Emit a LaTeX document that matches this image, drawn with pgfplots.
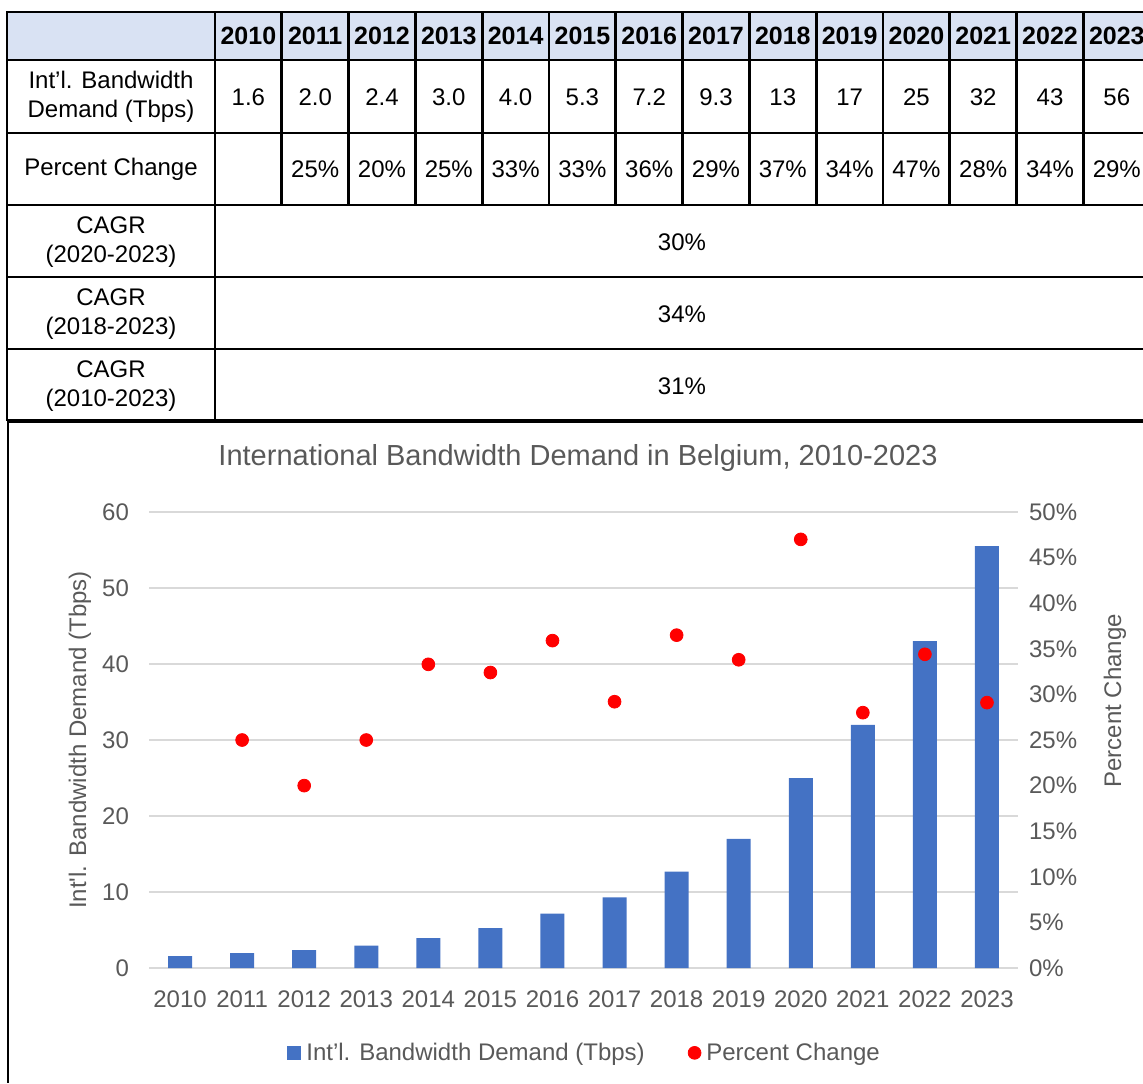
\documentclass[border=0pt]{standalone}
\usepackage{fontspec}
\setmainfont{Liberation Sans}
\newfontfamily\plainfont{Liberation Sans}
\usepackage{pgfplots}
\pgfplotsset{compat=1.18}
\definecolor{hdr}{HTML}{D9E2F3}
\definecolor{txtgray}{HTML}{595959}
\definecolor{gridgray}{HTML}{D9D9D9}
\definecolor{barblue}{HTML}{4472C4}
\definecolor{dotred}{HTML}{FF0000}
\begin{document}
\begin{tikzpicture}
\useasboundingbox (0,0) rectangle (571.5pt,-541.5pt);
\begin{scope}[x=0.5pt,y=-0.5pt,every node/.append style={font=\fontsize{12}{14.5}\selectfont, inner sep=0pt}]
  \fill[hdr] (7,12) rectangle (1152,60);
  \foreach \yy in {12,60,133,205,277,349} \draw[line width=1.4pt] (7,\yy) -- (1152,\yy);
  \draw[line width=2.4pt] (7,421) -- (1152,421);
  \draw[line width=1.4pt] (7,11.3) -- (7,421);
  \draw[line width=1.4pt] (215,12) -- (215,421);
  \foreach \k in {1,...,13} \draw[line width=1.4pt] ({215+66.8*\k},12) -- ({215+66.8*\k},205);
  \draw[line width=1.4pt] (8,421) -- (8,1083);
  % header
  \foreach \yr [count=\i from 0] in {2010,2011,2012,2013,2014,2015,2016,2017,2018,2019,2020,2021,2022,2023}
    \node[font=\fontsize{12.5}{14}\selectfont\bfseries] at ({248.4+66.8*\i},36) {\yr};
  % row 2
  \node[align=center] at (111,97) {Int’l. Bandwidth\\Demand (Tbps)};
  \foreach \v [count=\i from 0] in {1.6,2.0,2.4,3.0,4.0,5.3,7.2,9.3,13,17,25,32,43,56}
    \node at ({248.4+66.8*\i},97) {\v};
  % row 3
  \node at (111,169) {Percent Change};
  \foreach \v [count=\i from 1] in {25,20,25,33,33,36,29,37,34,47,28,34,29}
    \node at ({248.4+66.8*\i},169) {\v\%};
  % CAGR rows
  \node[align=center] at (111,242) {CAGR\\(2020-2023)};
  \node at (682,242) {30\%};
  \node[align=center] at (111,314) {CAGR\\(2018-2023)};
  \node at (682,314) {34\%};
  \node[align=center] at (111,386) {CAGR\\(2010-2023)};
  \node at (682,386) {31\%};
  % chart title
  \node[font=\fontsize{14.5}{17}\selectfont, text=txtgray] at (578,458) {International Bandwidth Demand in Belgium, 2010-2023};
\end{scope}

\begin{axis}[
  at={(74.5pt,-484pt)}, anchor=south west,
  width=434.5pt, height=228pt, scale only axis,
  xmin=-0.5, xmax=13.5, ymin=0, ymax=60,
  xtick={0,1,2,3,4,5,6,7,8,9,10,11,12,13},
  xticklabels={2010,2011,2012,2013,2014,2015,2016,2017,2018,2019,2020,2021,2022,2023},
  ytick={0,10,20,30,40,50,60},
  ymajorgrids, grid style={gridgray, line width=1pt},
  axis line style={draw=none},
  major tick length=0pt,
  /pgf/number format/assume math mode=true,
  tick label style={font=\fontsize{12}{14}\selectfont, text=txtgray},
  xticklabel style={yshift=-8pt},
  yticklabel style={xshift=-6.5pt},
  ylabel={Int{\plainfont'}l. Bandwidth Demand (Tbps)},
  ylabel style={at={(axis description cs:-0.0794,0.5)}, anchor=center, font=\fontsize{12}{14}\selectfont, text=txtgray},
  legend style={at={(axis description cs:0.503,-0.186)}, anchor=center, legend columns=2, draw=none, fill=none,
    font=\fontsize{12}{14}\selectfont, text=txtgray,
    nodes={inner xsep=2.5pt},
    /tikz/every even column/.append style={column sep=19pt}},
]
\addplot[ybar, bar width=12pt, bar shift=0pt, fill=barblue, draw=none,
  legend image code/.code={\fill[barblue] (0pt,-3.6pt) rectangle (7pt,3.4pt);}]
  coordinates {(0,1.55)(1,1.95)(2,2.35)(3,2.95)(4,3.95)(5,5.25)(6,7.15)(7,9.3)(8,12.7)(9,17.0)(10,25.0)(11,32.0)(12,43.0)(13,55.5)};
\addlegendentry{Int’l. Bandwidth Demand (Tbps)}
\addlegendimage{legend image code/.code={\fill[dotred] (3.2pt,0pt) circle (3.2pt);}}
\addlegendentry{Percent Change}
\end{axis}

\begin{axis}[
  at={(74.5pt,-484pt)}, anchor=south west,
  width=434.5pt, height=228pt, scale only axis,
  xmin=-0.5, xmax=13.5, ymin=0, ymax=50,
  axis x line=none, axis y line*=right,
  axis line style={draw=none}, major tick length=0pt,
  ytick={0,5,10,15,20,25,30,35,40,45,50},
  yticklabel={\pgfmathprintnumber{\tick}\%},
  /pgf/number format/assume math mode=true,
  yticklabel style={xshift=2pt, font=\fontsize{12}{14}\selectfont, text=txtgray},
  ylabel={Percent Change},
  ylabel style={at={(axis description cs:1.1116,0.586)}, anchor=center, rotate=0, font=\fontsize{12}{14}\selectfont, text=txtgray},
]
\addplot[only marks, mark=*, mark size=3.2pt, mark options={draw=dotred, fill=dotred}]
  coordinates {(1,25)(2,20)(3,25)(4,33.3)(5,32.4)(6,35.9)(7,29.2)(8,36.5)(9,33.8)(10,47.0)(11,28.0)(12,34.4)(13,29.1)};
\end{axis}
\end{tikzpicture}
\end{document}
